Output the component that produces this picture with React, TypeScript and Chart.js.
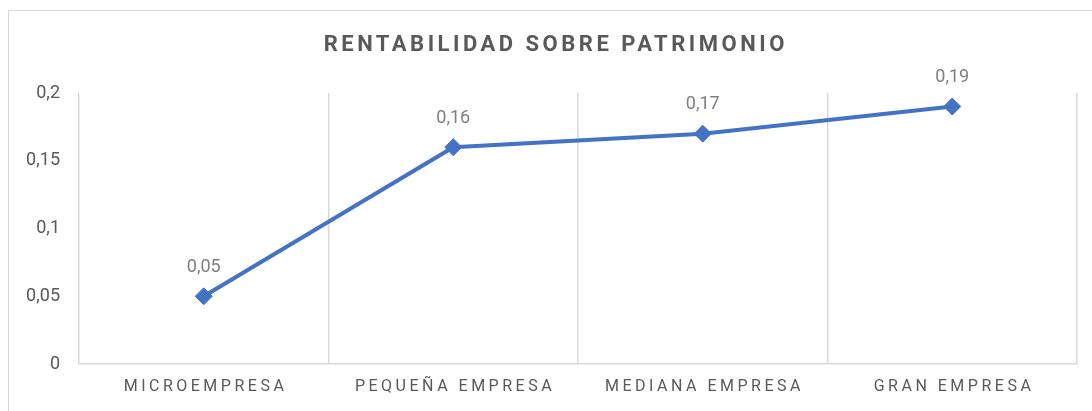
import React, { useEffect, useRef } from "react";
import { Chart, registerables } from "chart.js";

Chart.register(...registerables);

const categories = ["MICROEMPRESA", "PEQUEÑA EMPRESA", "MEDIANA EMPRESA", "GRAN EMPRESA"];
const values = [0.05, 0.16, 0.17, 0.19];
const dataLabels = ["0,05", "0,16", "0,17", "0,19"];
const yTicks = [0, 0.05, 0.1, 0.15, 0.2];
const yTickLabels = ["0", "0,05", "0,1", "0,15", "0,2"];
const titleText = "RENTABILIDAD SOBRE PATRIMONIO";

const BLUE = "#4472C4";
const GRID = "#d9d9d9";
const TEXT = "#595959";
const LABEL = "#7f7f7f";

const overlayPlugin = {
  id: "overlay",
  afterDatasetsDraw(chart: any) {
    const ctx = chart.ctx;
    const meta = chart.getDatasetMeta(0);
    ctx.save();
    ctx.font = "18px Roboto";
    ctx.fillStyle = LABEL;
    ctx.textAlign = "center";
    ctx.textBaseline = "middle";
    meta.data.forEach((pt: any, i: number) => {
      ctx.fillText(dataLabels[i], pt.x, pt.y - 29);
    });
    ctx.restore();
  },
  afterDraw(chart: any) {
    const ctx = chart.ctx;
    const xs = chart.scales.x;
    ctx.save();
    // title
    (ctx as any).letterSpacing = "3.5px";
    ctx.font = "bold 22px Roboto";
    ctx.fillStyle = TEXT;
    ctx.textAlign = "center";
    ctx.textBaseline = "middle";
    ctx.fillText(titleText, chart.width / 2 + 1.75, 34);
    // x labels
    (ctx as any).letterSpacing = "3.5px";
    ctx.font = "16px Roboto";
    ctx.fillStyle = TEXT;
    categories.forEach((c, i) => {
      const x = xs.getPixelForValue(i);
      ctx.fillText(c, x + 1.75, chart.chartArea.bottom + 23);
    });
    ctx.restore();
  },
};

export default function App() {
  const ref = useRef<HTMLCanvasElement | null>(null);
  useEffect(() => {
    if (!ref.current) return;
    const chart = new Chart(ref.current, {
      type: "line",
      data: {
        labels: categories,
        datasets: [
          {
            data: values,
            borderColor: BLUE,
            backgroundColor: BLUE,
            borderWidth: 4,
            pointStyle: "rectRot",
            pointRadius: 8.5,
            pointBorderWidth: 1,
            pointBackgroundColor: BLUE,
            pointBorderColor: BLUE,
            tension: 0,
          },
        ],
      },
      options: {
        animation: false,
        responsive: false,
        devicePixelRatio: 1,
        layout: { padding: { left: 0, right: 22, top: 82, bottom: 0 } },
        plugins: {
          legend: { display: false },
          title: { display: false },
          tooltip: { enabled: false },
        },
        scales: {
          x: {
            type: "category",
            offset: true,
            grid: {
              offset: true,
              color: GRID,
              lineWidth: 1.5,
              drawTicks: false,
            },
            border: { display: true, color: GRID, width: 1.5 },
            ticks: { display: false },
            afterFit: (s: any) => {
              s.height = 67;
            },
          },
          y: {
            min: 0,
            max: 0.2,
            afterBuildTicks: (s: any) => {
              s.ticks = yTicks.map((v) => ({ value: v }));
            },
            grid: { display: false, drawTicks: false },
            border: { display: false },
            ticks: {
              padding: 19,
              color: TEXT,
              font: { family: "Roboto", size: 18 },
              callback: (v: any) => {
                const idx = yTicks.findIndex((t) => Math.abs(t - Number(v)) < 1e-9);
                return idx >= 0 ? yTickLabels[idx] : "";
              },
            },
            afterFit: (s: any) => {
              s.width = 70;
            },
          },
        },
      },
      plugins: [overlayPlugin],
    });
    return () => chart.destroy();
  }, []);

  return (
    <div
      style={{
        position: "fixed",
        left: 8,
        top: 10,
        width: 1090,
        height: 420,
        border: "1px solid #d9d9d9",
        background: "#fff",
      }}
    >
      <canvas ref={ref} width={1090} height={420} style={{ display: "block", width: 1090, height: 420 }} />
    </div>
  );
}
